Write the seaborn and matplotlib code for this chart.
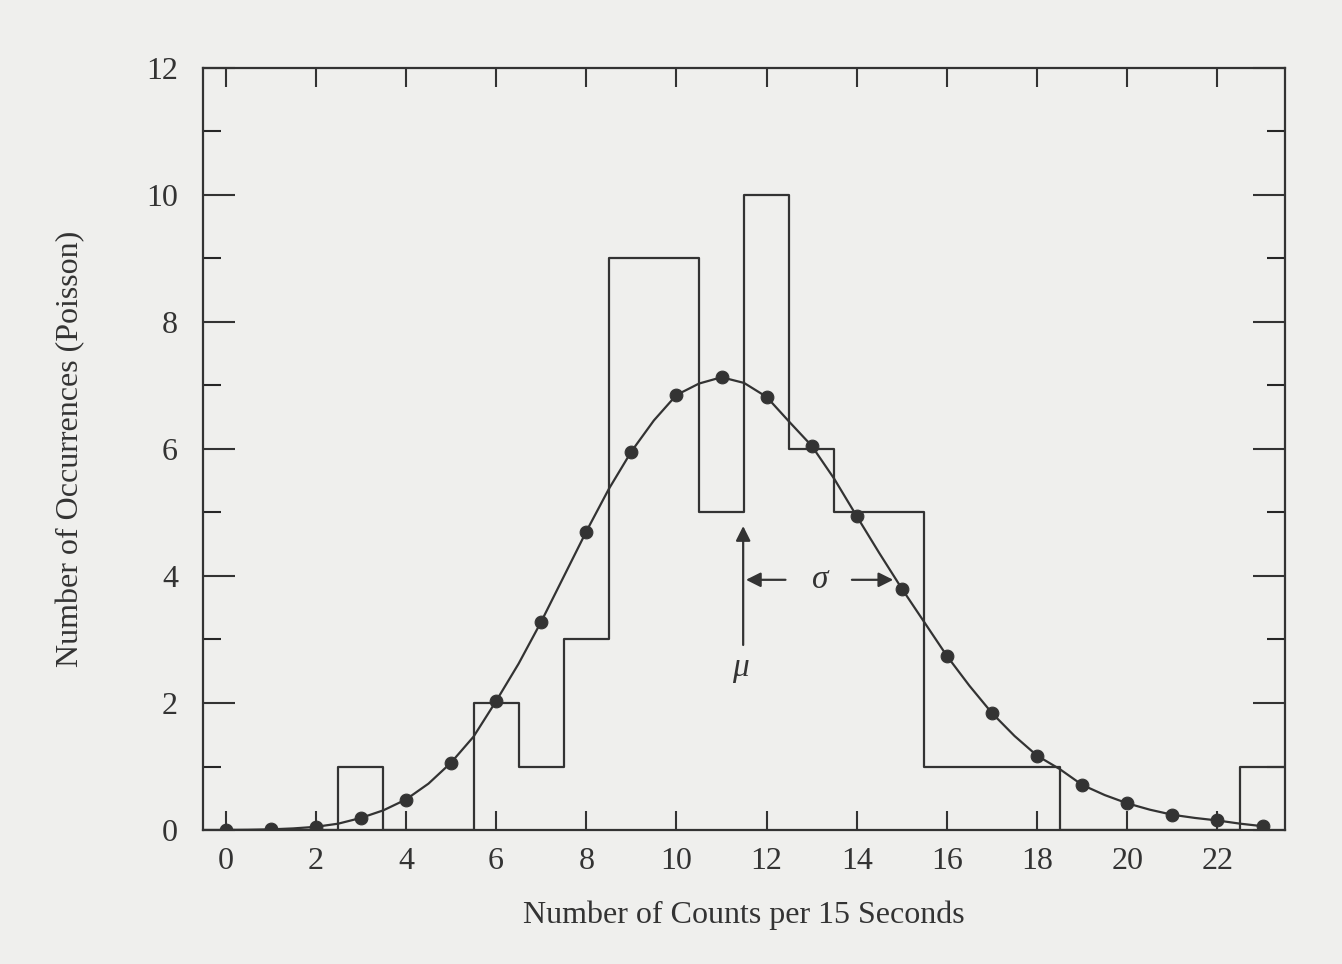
import matplotlib
matplotlib.use("Agg")
import matplotlib.pyplot as plt
import seaborn as sns

# counts per 15 s interval (bins centred on integers)
counts_k = list(range(0, 24))
occurrences = [0, 0, 0, 1, 0, 0, 2, 1, 3, 9, 9, 5, 10, 6, 5, 5, 1, 1, 1, 0, 0, 0, 0, 1]
# Poisson expectation
poisson_vals = [0.0, 0.01, 0.05, 0.19, 0.48, 1.06, 2.03, 3.28, 4.70, 5.96, 6.85, 7.13,
                6.82, 6.05, 4.94, 3.80, 2.74, 1.84, 1.17, 0.71, 0.42, 0.24, 0.15, 0.06]
# the smooth curve read between the dots (half-integer positions)
half_k = [k + 0.5 for k in range(0, 23)]
half_vals = [0.003, 0.025, 0.10, 0.31, 0.73, 1.47, 2.62, 3.99, 5.37, 6.45, 7.03, 7.04,
             6.43, 5.53, 4.36, 3.27, 2.27, 1.48, 0.96, 0.55, 0.32, 0.19, 0.10]
mu = 11.48
sigma = 3.39

xticks = list(range(0, 23, 2))
yticks = list(range(0, 13, 2))


def main():
    sns.set_style("ticks")
    plt.rcParams["font.family"] = ["Liberation Serif", "DejaVu Serif"]
    ink = "#333333"
    paper = "#efefed"

    curve = sorted(zip(counts_k + half_k, poisson_vals + half_vals))
    curve_x = [c[0] for c in curve]
    curve_y = [c[1] for c in curve]

    fig = plt.figure(figsize=(13.42, 9.64), dpi=100, facecolor=paper)
    ax = fig.add_axes([0.1513, 0.139, 0.8063, 0.7905])
    ax.set_facecolor(paper)

    sns.histplot(x=counts_k, weights=occurrences, discrete=True, element="step",
                 fill=False, color=ink, linewidth=1.6, ax=ax)
    sns.lineplot(x=curve_x, y=curve_y, color=ink, linewidth=1.6, ax=ax)
    sns.scatterplot(x=counts_k, y=poisson_vals, color=ink, s=85, edgecolor=ink,
                    zorder=5, ax=ax)

    # mean and width markers
    arrow = dict(arrowstyle="-|>", color=ink, lw=1.6, mutation_scale=22)
    ax.annotate("", xy=(mu, 4.83), xytext=(mu, 2.87), arrowprops=arrow)
    ax.annotate("", xy=(mu, 3.94), xytext=(mu + 1.0, 3.94), arrowprops=arrow)
    ax.annotate("", xy=(mu + sigma, 3.94), xytext=(mu + 2.35, 3.94), arrowprops=arrow)
    ax.text(mu + 1.72, 3.94, "σ", fontsize=24, style="italic", color=ink,
            ha="center", va="center")
    ax.text(mu - 0.06, 2.55, "μ", fontsize=24, style="italic", color=ink,
            ha="center", va="center")

    ax.set_xlim(-0.5, 23.5)
    ax.set_ylim(0, 12)
    ax.set_xticks(xticks)
    ax.set_yticks(yticks)
    ax.set_yticks(list(range(1, 12, 2)), minor=True)
    ax.tick_params(axis="x", which="major", direction="in", length=14, width=1.5,
                   top=True, bottom=True, labelsize=23, pad=12, colors=ink)
    ax.tick_params(axis="y", which="major", direction="in", length=23, width=1.5,
                   left=True, right=True, labelsize=23, pad=18, colors=ink)
    ax.tick_params(axis="y", which="minor", direction="in", length=13, width=1.5,
                   left=True, right=True)
    for side in ax.spines.values():
        side.set_color(ink)
        side.set_linewidth(1.6)

    ax.set_xlabel("Number of Counts per 15 Seconds", fontsize=23, color=ink, labelpad=18)
    ax.set_ylabel("Number of Occurrences (Poisson)", fontsize=23, color=ink, labelpad=44)

    fig.savefig("out.png", dpi=100, facecolor=paper)


if __name__ == "__main__":
    main()
